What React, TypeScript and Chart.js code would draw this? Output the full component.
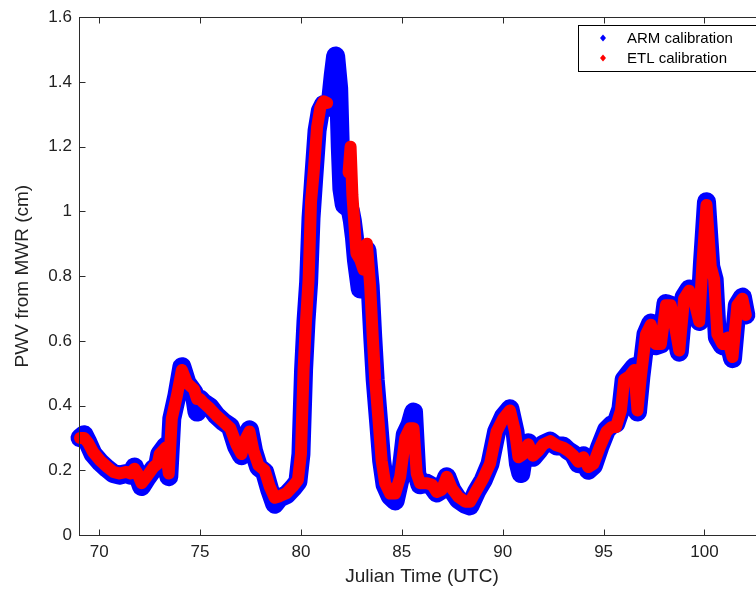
import React, { useEffect, useRef } from "react";
import { Chart, registerables } from "chart.js";

Chart.register(...registerables);

const days = [
  69.05, 69.25, 69.45, 69.7, 70.05, 70.4, 70.7, 71.0, 71.35, 71.55, 71.75, 71.9, 72.1, 72.35, 72.7, 72.9,
  73.0, 73.3, 73.45, 73.6, 73.85, 74.1, 74.35, 74.7, 74.85, 75.0, 75.15, 75.5, 75.8, 76.15, 76.5, 76.8,
  77.05, 77.2, 77.45, 77.65, 77.9, 78.2, 78.45, 78.7, 78.95, 79.3, 79.6, 79.85, 80.0, 80.13, 80.25, 80.38,
  80.5, 80.63, 80.8, 80.96, 81.12, 81.3, 81.45, 81.6, 81.72, 81.87, 81.95, 82.03, 82.15, 82.36, 82.46, 82.55,
  82.65, 82.75, 82.94, 83.1, 83.27, 83.43, 83.56, 83.68, 83.85, 84.0, 84.17, 84.42, 84.67, 84.92, 85.17, 85.4,
  85.58, 85.74, 85.9, 86.24, 86.5, 86.73, 86.98, 87.23, 87.48, 87.8, 88.14, 88.38, 88.71, 89.04, 89.37, 89.7,
  90.03, 90.36, 90.61, 90.78, 90.9, 91.02, 91.27, 91.5, 91.77, 92.0, 92.35, 92.67, 93.0, 93.25, 93.5, 93.75,
  94.0, 94.24, 94.5, 94.8, 95.15, 95.4, 95.61, 95.86, 96.02, 96.27, 96.52, 96.68, 96.85, 97.1, 97.34, 97.59,
  97.84, 98.09, 98.33, 98.58, 98.75, 98.99, 99.24, 99.49, 99.74, 99.9, 100.1, 100.31, 100.48, 100.64, 100.89, 101.14,
  101.39, 101.63, 101.88, 102.05,
];

const etlPwv = [
  0.3, 0.3, 0.285, 0.256, 0.23, 0.21, 0.195, 0.19, 0.195, 0.19, 0.205, 0.19, 0.16, 0.18, 0.21, 0.22,
  0.25, 0.27, 0.19, 0.36, 0.43, 0.51, 0.47, 0.45, 0.42, 0.42, 0.41, 0.39, 0.37, 0.35, 0.33, 0.28,
  0.25, 0.29, 0.32, 0.26, 0.215, 0.2, 0.15, 0.115, 0.12, 0.13, 0.15, 0.17, 0.25, 0.51, 0.66, 0.79,
  1.03, 1.12, 1.26, 1.32, 1.34, 1.335, null, null, null, null, null, null, null, 1.12, 1.2, 1.05,
  0.96, 0.87, 0.85, 0.82, 0.9, 0.77, 0.61, 0.48, 0.35, 0.23, 0.16, 0.128, 0.128, 0.18, 0.3, 0.33,
  0.33, 0.19, 0.16, 0.16, 0.155, 0.133, 0.14, 0.18, 0.144, 0.118, 0.103, 0.103, 0.139, 0.175, 0.22, 0.32,
  0.36, 0.385, 0.32, 0.24, 0.245, 0.25, 0.28, 0.245, 0.26, 0.28, 0.29, 0.277, 0.27, 0.26, 0.246, 0.226,
  0.24, 0.21, 0.22, 0.27, 0.32, 0.334, 0.334, 0.385, 0.48, 0.49, 0.51, 0.385, 0.49, 0.62, 0.65, 0.59,
  0.59, 0.71, 0.71, 0.63, 0.57, 0.73, 0.755, 0.724, 0.66, 0.84, 1.02, 0.83, 0.79, 0.62, 0.59, 0.61,
  0.55, 0.71, 0.73, 0.68,
];

const armPwv = [
  0.3, 0.31, 0.285, 0.25, 0.225, 0.205, 0.19, 0.185, 0.19, 0.185, 0.21, 0.185, 0.15, 0.175, 0.205, 0.215,
  0.25, 0.275, 0.18, 0.36, 0.43, 0.52, 0.47, 0.44, 0.38, 0.42, 0.41, 0.395, 0.37, 0.35, 0.335, 0.275,
  0.245, 0.29, 0.325, 0.26, 0.21, 0.195, 0.14, 0.095, 0.115, 0.125, 0.145, 0.165, 0.25, 0.51, 0.66, 0.78,
  0.98, 1.1, 1.25, 1.31, 1.33, 1.32, 1.33, 1.42, 1.48, 1.38, 1.2, 1.07, 1.02, 1.01, 1.0, 0.97,
  0.92, 0.85, 0.76, 0.8, 0.88, 0.77, 0.61, 0.48, 0.35, 0.23, 0.155, 0.12, 0.105, 0.175, 0.31, 0.34,
  0.38, 0.19, 0.155, 0.16, 0.15, 0.13, 0.14, 0.18, 0.14, 0.11, 0.095, 0.09, 0.135, 0.17, 0.22, 0.32,
  0.365, 0.39, 0.32, 0.22, 0.19, 0.24, 0.285, 0.24, 0.26, 0.28, 0.29, 0.275, 0.275, 0.26, 0.25, 0.22,
  0.245, 0.2, 0.215, 0.27, 0.325, 0.34, 0.345, 0.39, 0.48, 0.5, 0.52, 0.38, 0.49, 0.62, 0.655, 0.585,
  0.59, 0.715, 0.71, 0.625, 0.565, 0.735, 0.76, 0.725, 0.66, 0.84, 1.03, 0.83, 0.79, 0.61, 0.585, 0.61,
  0.545, 0.71, 0.735, 0.68,
];

const seriesNames = ["ARM calibration", "ETL calibration"];
const xTickStep = 5;
const yTickStep = 0.2;

const FONT = "Arial, 'Liberation Sans', Helvetica, sans-serif";

export default function App() {
  const ref = useRef<HTMLCanvasElement | null>(null);

  useEffect(() => {
    const canvas = ref.current;
    if (!canvas) return;

    const framePlugin = {
      id: "matlabFrame",
      afterDatasetsDraw(chart: any) {
        const { ctx, chartArea } = chart;
        const xs = chart.scales.x;
        const ys = chart.scales.y;
        ctx.save();
        ctx.strokeStyle = "#2b2b2b";
        ctx.lineWidth = 1;
        const l = Math.round(chartArea.left) + 0.5;
        const r = Math.round(chartArea.right) + 0.5;
        const t = Math.round(chartArea.top) + 0.5;
        const b = Math.round(chartArea.bottom) + 0.5;
        ctx.strokeRect(l, t, r - l, b - t);
        const tl = 6;
        ctx.beginPath();
        xs.ticks.forEach((tk: any) => {
          const px = Math.round(xs.getPixelForValue(tk.value)) + 0.5;
          ctx.moveTo(px, b);
          ctx.lineTo(px, b - tl);
          ctx.moveTo(px, t);
          ctx.lineTo(px, t + tl);
        });
        ys.ticks.forEach((tk: any) => {
          const py = Math.round(ys.getPixelForValue(tk.value)) + 0.5;
          ctx.moveTo(l, py);
          ctx.lineTo(l + tl, py);
          ctx.moveTo(r, py);
          ctx.lineTo(r - tl, py);
        });
        ctx.stroke();
        ctx.restore();
      },
      afterDraw(chart: any) {
        const { ctx } = chart;
        ctx.save();
        const bx = 578.5, by = 25.5, bw = 200, bh = 46;
        ctx.fillStyle = "#ffffff";
        ctx.fillRect(bx, by, bw, bh);
        ctx.strokeStyle = "#000";
        ctx.lineWidth = 1;
        ctx.strokeRect(bx, by, bw, bh);
        const colors = ["#0000ff", "#ff0000"];
        const rows = [38, 58];
        ctx.font = `15px ${FONT}`;
        ctx.textBaseline = "middle";
        ctx.textAlign = "left";
        seriesNames.forEach((name, i) => {
          const cx = 603, cy = rows[i];
          ctx.fillStyle = colors[i];
          ctx.beginPath();
          ctx.moveTo(cx, cy - 3.5);
          ctx.lineTo(cx + 3, cy);
          ctx.lineTo(cx, cy + 3.5);
          ctx.lineTo(cx - 3, cy);
          ctx.closePath();
          ctx.fill();
          ctx.fillStyle = "#000";
          ctx.fillText(name, 627, cy + 1);
        });
        ctx.restore();
      },
    };

    const chart = new Chart(canvas, {
      type: "line",
      data: {
        datasets: [
          {
            label: seriesNames[1],
            data: days.map((d, i) => ({ x: d, y: etlPwv[i] })),
            borderColor: "#ff0000",
            backgroundColor: "#ff0000",
            borderWidth: 12,
            pointRadius: 0,
            tension: 0,
            spanGaps: false,
            borderJoinStyle: "round",
            borderCapStyle: "round",
            order: 1,
          },
          {
            label: seriesNames[0],
            data: days.map((d, i) => ({ x: d, y: armPwv[i] })),
            borderColor: "#0000ff",
            backgroundColor: "#0000ff",
            borderWidth: 19,
            pointRadius: 0,
            tension: 0,
            borderJoinStyle: "round",
            borderCapStyle: "round",
            order: 2,
          },
        ],
      },
      options: {
        animation: false,
        responsive: false,
        maintainAspectRatio: false,
        clip: false as any,
        layout: { padding: { top: 16, right: 15, left: 0, bottom: 0 } },
        plugins: {
          legend: { display: false },
          tooltip: { enabled: false },
        },
        scales: {
          x: {
            type: "linear",
            min: 69,
            max: 103,
            grid: { display: false, drawTicks: false },
            border: { display: false },
            ticks: {
              stepSize: xTickStep,
              includeBounds: false,
              padding: 7,
              maxRotation: 0,
              color: "#222",
              font: { family: FONT, size: 17 },
            },
            title: {
              display: true,
              text: "Julian Time (UTC)",
              color: "#222",
              font: { family: FONT, size: 19 },
              padding: { top: 0, bottom: 2 },
            },
            afterFit: (s: any) => {
              s.height = 55;
            },
          },
          y: {
            type: "linear",
            min: 0,
            max: 1.6,
            grid: { display: false, drawTicks: false },
            border: { display: false },
            ticks: {
              stepSize: yTickStep,
              includeBounds: false,
              padding: 7,
              color: "#222",
              font: { family: FONT, size: 17 },
              callback: (v: any) => String(parseFloat(Number(v).toFixed(1))),
            },
            title: {
              display: true,
              text: "PWV from MWR (cm)",
              color: "#222",
              font: { family: FONT, size: 19 },
              padding: { top: 11, bottom: 0 },
            },
            afterFit: (s: any) => {
              s.width = 79;
            },
          },
        },
      },
      plugins: [framePlugin],
    });

    return () => chart.destroy();
  }, []);

  return (
    <div
      style={{
        position: "fixed",
        left: 0,
        top: 0,
        width: 756,
        height: 590,
        overflow: "hidden",
        background: "#fff",
      }}
    >
      <canvas ref={ref} width={780} height={590} style={{ width: 780, height: 590, display: "block" }} />
    </div>
  );
}
